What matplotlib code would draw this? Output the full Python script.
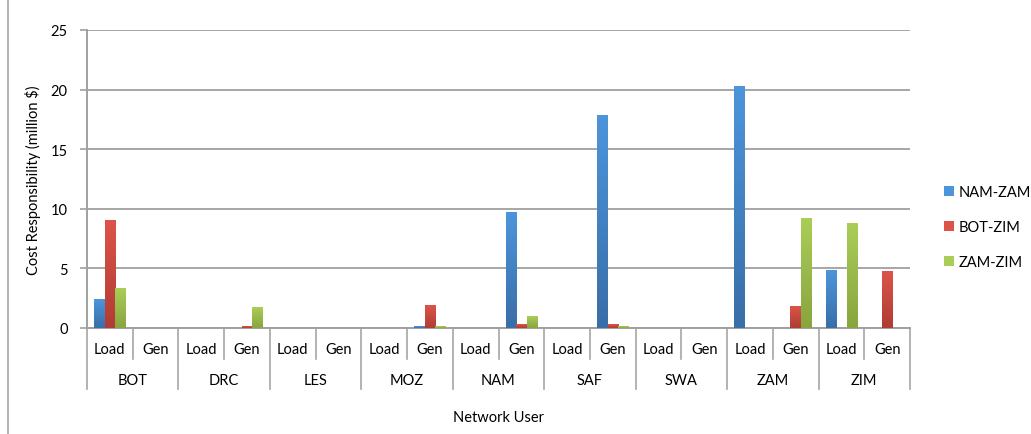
import numpy as np
import matplotlib.pyplot as plt
from matplotlib.patches import Patch
from matplotlib.colors import LinearSegmentedColormap

plt.rcParams['font.family'] = ['Lato', 'DejaVu Sans']

groups = ['BOT', 'DRC', 'LES', 'MOZ', 'NAM', 'SAF', 'SWA', 'ZAM', 'ZIM']
subs = ['Load', 'Gen']
series = ['NAM-ZAM', 'BOT-ZIM', 'ZAM-ZIM']

# one value per (group, sub) -> 18 values, order BOT Load, BOT Gen, DRC Load, ...
nam_zam = [2.4, 0, 0, 0, 0, 0, 0, 0.1, 0, 9.7, 0, 17.8, 0, 0, 20.3, 0, 4.8, 0]
bot_zim = [9.0, 0, 0, 0.1, 0, 0, 0, 1.9, 0, 0.3, 0, 0.3, 0, 0, 0, 1.8, 0, 4.7]
zam_zim = [3.3, 0, 0, 1.7, 0, 0, 0, 0.1, 0, 1.0, 0, 0.1, 0, 0, 0, 9.2, 8.8, 0]

values = [nam_zam, bot_zim, zam_zim]
top_colors = ['#4c95db', '#dc5449', '#aacd58']
bot_colors = ['#3a6ea8', '#b03c33', '#89a53f']

fs = 10.5

fig = plt.figure(figsize=(10.31, 4.35), dpi=100)
ax = fig.add_axes([87/1031, 1 - 329/435, (910-87)/1031, (329-31)/435])

n = len(groups) * len(subs)
x = np.arange(n)
w = 0.23
grad = np.linspace(0, 1, 64).reshape(-1, 1)

for i, vals in enumerate(values):
    cmap = LinearSegmentedColormap.from_list('g%d' % i, [bot_colors[i], top_colors[i]])
    for xi, v in zip(x, vals):
        if v <= 0:
            continue
        x0 = xi + (i - 1) * w - w / 2
        ax.imshow(grad, cmap=cmap, extent=[x0, x0 + w, 0, v], origin='lower',
                  aspect='auto', zorder=3)

ax.set_xlim(-0.5, n - 0.5)
ax.set_ylim(0, 25)
ax.set_yticks([0, 5, 10, 15, 20, 25])
ax.tick_params(axis='y', labelsize=fs, length=5, color='#a0a0a0', width=1.2, pad=9)
ax.set_xticks([])
ax.grid(axis='y', color='#a6a6a6', linewidth=1.4, zorder=0)
ax.set_axisbelow(True)
for s in ['top', 'right']:
    ax.spines[s].set_visible(False)
ax.spines['left'].set_color('#a0a0a0')
ax.spines['left'].set_linewidth(1.4)
ax.spines['bottom'].set_color('#a0a0a0')
ax.spines['bottom'].set_linewidth(1.4)

# multi-level category axis
trans = ax.get_xaxis_transform()
for k in range(n + 1):
    xb = k - 0.5
    y_end = -0.205 if k % 2 == 0 else -0.104
    ax.plot([xb, xb], [0, y_end], transform=trans, color='#a6a6a6',
            linewidth=1.2, clip_on=False)
for k in range(n):
    ax.text(k, -0.07, subs[k % 2], transform=trans, ha='center', va='center',
            fontsize=fs)
for g, name in enumerate(groups):
    ax.text(2 * g + 0.5, -0.175, name, transform=trans, ha='center', va='center',
            fontsize=fs)
ax.text((n - 1) / 2, -0.30, 'Network User', transform=trans, ha='center',
        va='center', fontsize=fs)

ax.set_ylabel('Cost Responsibility (million $)', fontsize=fs, labelpad=7)

handles = [Patch(facecolor=(top_colors[i]), edgecolor='none') for i in range(3)]
fig.legend(handles, series, loc='center left', bbox_to_anchor=(0.903, 0.476),
           frameon=False, fontsize=fs, handlelength=0.7, handleheight=0.7,
           labelspacing=1.45, handletextpad=0.3)

fig.add_artist(plt.Line2D([8/1031, 8/1031], [0, 1], color='#a6a6a6', linewidth=1.2))

fig.savefig('out.png', dpi=100)
